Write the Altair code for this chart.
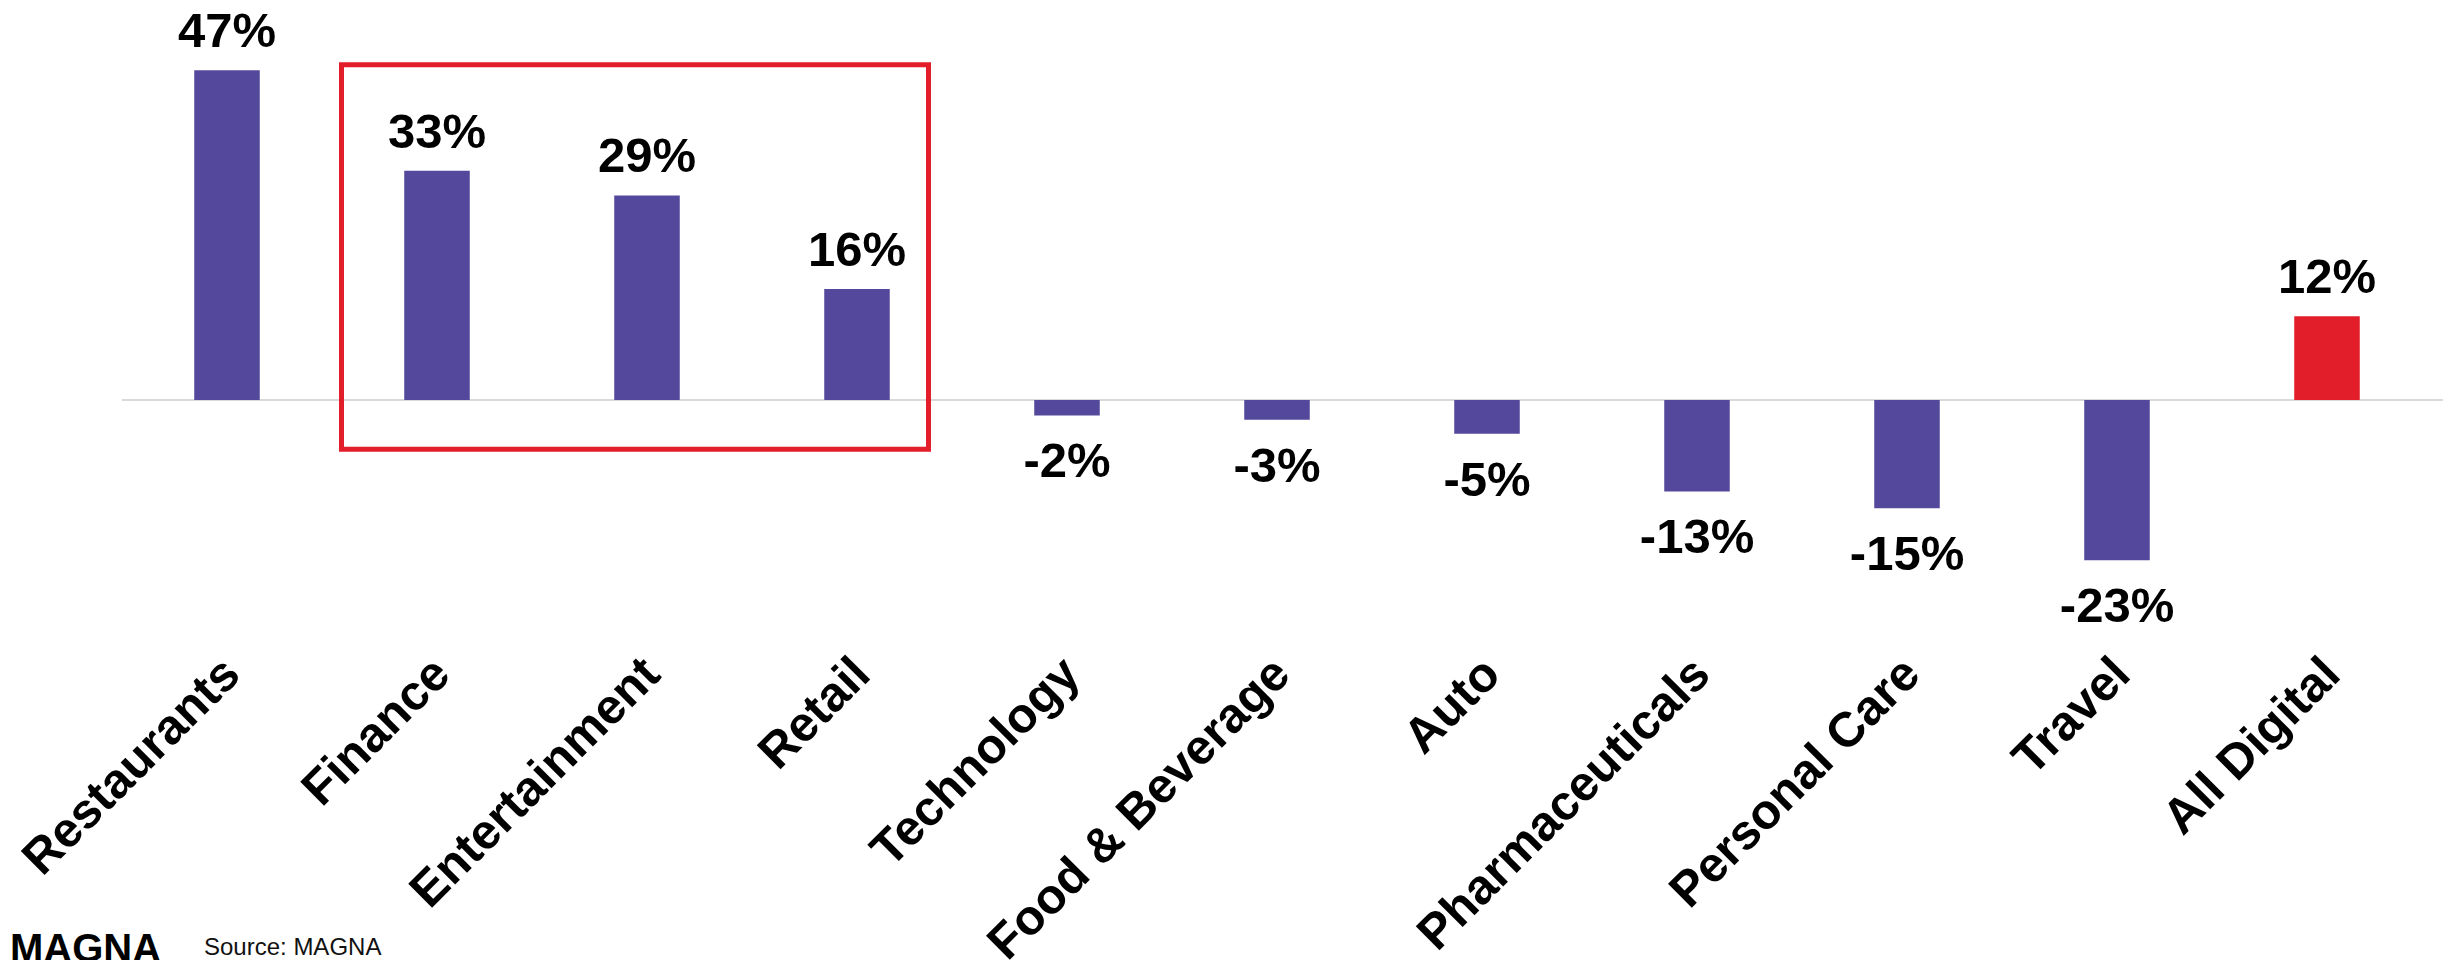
import altair as alt
import pandas as pd

# ---- data ----
categories = ["Restaurants", "Finance", "Entertainment", "Retail", "Technology",
              "Food & Beverage", "Auto", "Pharmaceuticals", "Personal Care",
              "Travel", "All Digital"]
values = [46.9, 32.6, 29.1, 15.8, -2.2, -2.8, -4.8, -13.0, -15.4, -22.8, 11.9]
value_labels = ["47%", "33%", "29%", "16%", "-2%", "-3%", "-5%", "-13%",
                "-15%", "-23%", "12%"]
highlight = ["no"] * 10 + ["yes"]

box_from = ["Finance"]
box_to = ["Retail"]
box_top = [47.7]
box_bottom = [-7.0]

source_text = ["Source: MAGNA"]
logo_text = ["MAGNA"]

# ---- styling ----
PURPLE = "#54489c"
RED = "#e31e2b"
W, H = 2310, 660
FONT = "Liberation Sans, Arial, sans-serif"

df = pd.DataFrame({"category": categories, "value": values,
                   "label": value_labels, "hl": highlight})
box_df = pd.DataFrame({"start": box_from, "end": box_to,
                       "top": box_top, "bottom": box_bottom})

x_scale = alt.Scale(domain=categories, paddingInner=0.688, paddingOuter=0.344)
y_scale = alt.Scale(domain=[-36.98, 56.9], nice=False, zero=False)
x_axis = alt.Axis(title=None, domain=False, ticks=False, grid=False,
                  labelAngle=-45, labelAlign="right", labelBaseline="top",
                  labelPadding=-11, labelOffset=-12, labelFontSize=49,
                  labelFont=FONT, labelFontWeight="bold", labelColor="#000000",
                  labelLimit=1000, labelOverlap=False, labelBound=False)

X = alt.X("category:N", scale=x_scale, axis=x_axis, sort=categories)
Y = alt.Y("value:Q", scale=y_scale, axis=None)

zero_line = alt.Chart(pd.DataFrame({"z": [0]})).mark_rule(
    color="#d9d9d9", strokeWidth=2
).encode(y=alt.Y("z:Q", scale=y_scale, axis=None),
         x=alt.value(0), x2=alt.value(W + 11))

bars = alt.Chart(df).mark_bar().encode(
    x=X, y=Y,
    color=alt.Color("hl:N", scale=alt.Scale(domain=["no", "yes"],
                                            range=[PURPLE, RED]), legend=None),
)

pos_text = alt.Chart(df).transform_filter("datum.value >= 0").mark_text(
    font=FONT, fontSize=49, fontWeight="bold", color="#000000",
    baseline="alphabetic", dy=-23
).encode(x=X, y=Y, text="label:N")

neg_text = alt.Chart(df).transform_filter("datum.value < 0").mark_text(
    font=FONT, fontSize=49, fontWeight="bold", color="#000000",
    baseline="alphabetic", dy=62
).encode(x=X, y=Y, text="label:N")

box = alt.Chart(box_df).mark_rect(
    fill=None, fillOpacity=0, stroke=RED, strokeWidth=5,
    xOffset=-95.5, x2Offset=71.5
).encode(
    x=alt.X("start:N", scale=x_scale, axis=x_axis, sort=categories, bandPosition=0.5),
    x2=alt.X2("end:N", bandPosition=0.5),
    y=alt.Y("top:Q", scale=y_scale, axis=None),
    y2="bottom:Q",
)

source = alt.Chart(pd.DataFrame({"t": source_text})).mark_text(
    font=FONT, fontSize=24, color="#111111", align="left", baseline="alphabetic"
).encode(text="t:N", x=alt.value(82), y=alt.value(955))

logo = alt.Chart(pd.DataFrame({"t": logo_text})).mark_text(
    font="Liberation Sans Narrow, Liberation Sans, Arial, sans-serif",
    fontSize=40, fontWeight="bold", color="#000000", align="left",
    baseline="alphabetic"
).encode(text="t:N", x=alt.value(-112), y=alt.value(962))

chart = alt.layer(zero_line, bars, pos_text, neg_text, box, source, logo).properties(
    width=W, height=H,
    autosize=alt.AutoSizeParams(type="none"),
    padding={"left": 122, "top": 0, "right": 11, "bottom": 300},
    background="#ffffff",
).configure_view(stroke=None)

chart.save("out.html", embed_options={"renderer": "svg", "actions": False})
